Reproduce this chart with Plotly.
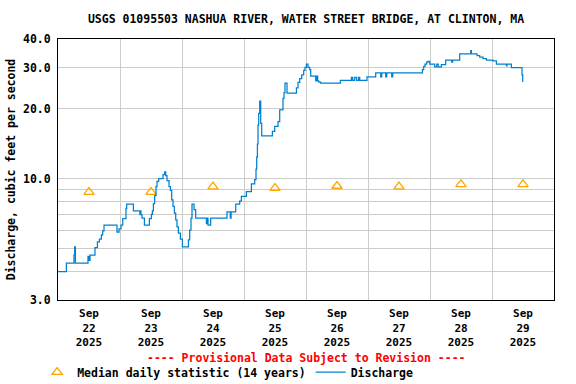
import pandas as pd
import plotly.graph_objects as go

# ---- data ----
start = "2025-09-22 00:00"
# hours since start, discharge (cfs) -- step series
q_hours = [0, 3.25, 6.19, 6.46, 6.74, 11.61, 12.0, 12.39, 14.32, 15.25, 16.03, 16.8, 17.3, 17.81,
           22.84, 23.61, 24.39, 25.05, 26.32, 26.59, 29.19, 31.7, 31.9, 32.1, 32.52, 33.45, 35.38,
           36.16, 36.54, 36.93, 37.43, 37.94, 38.32, 38.98, 40.65, 41.3, 41.69, 42.19, 42.97, 43.51,
           44.01, 44.52, 45.06, 45.56, 46.06, 46.61, 47.38, 48.16, 50.48, 50.98, 51.48, 51.87, 52.65,
           53.3, 57.45, 57.83, 58.07, 59.11, 65.42, 66.7, 67.0, 68.79, 70.33, 70.99, 72.93, 74.87,
           76.14, 76.65, 76.92, 77.19, 77.42, 77.69, 78.08, 78.47, 78.85, 82.99, 83.88, 85.16, 85.82,
           87.1, 87.49, 87.87, 88.65, 92.29, 92.9, 93.56, 94.34, 95.11, 95.61, 96.16, 96.78, 97.43,
           97.82, 99.76, 100.14, 100.53, 100.92, 101.69, 109.32, 113.58, 114.08, 114.86, 115.63,
           116.4, 116.8, 119.61, 122.98, 124.92, 125.31, 126.86, 127.25, 129.18, 129.57, 141.06,
           141.56, 142.07, 142.72, 143.23, 143.89, 145.82, 146.6, 147.18, 148.42, 150.08, 152.41,
           152.79, 155.5, 159.76, 160.03, 162.2, 163.24, 164.52, 165.84, 168.39, 169.71, 173.58,
           173.81, 175.51, 179.61, 179.89]
q_cfs = [3.98, 4.33, 4.68, 5.08, 4.33, 4.62, 4.45, 4.68, 5.05, 5.34, 5.49, 5.73, 5.96, 6.30,
         5.89, 6.07, 6.30, 6.73, 7.44, 7.77, 7.27, 7.0, 7.27, 7.0, 6.76, 6.30, 6.73,
         7.02, 7.27, 7.8, 8.46, 9.25, 9.73, 10.0, 10.4, 10.7, 10.3, 9.8, 9.25, 8.9,
         8.1, 7.6, 7.1, 6.64, 6.2, 5.83, 5.49, 5.08, 5.45, 6.0, 6.76, 7.77, 7.35,
         6.76, 6.4, 6.76, 6.30, 6.76, 7.2, 6.76, 7.2, 7.77, 8.0, 8.4, 8.8, 9.5,
         9.9, 11.0, 12.4, 14.1, 17.0, 19.1, 21.6, 17.3, 15.3, 16.0, 16.8, 17.6, 19.8,
         22.2, 23.5, 25.8, 23.4, 24.6, 26.0, 27.0, 28.0, 29.3, 30.2, 31.2, 30.2, 29.5,
         27.7, 26.4, 27.7, 26.4, 26.1, 25.8, 26.5, 27.3, 26.5, 27.3, 26.5,
         27.3, 26.5, 27.5, 28.6, 27.5, 28.6, 27.5, 28.6, 27.5, 28.6, 29.5,
         30.5, 31.2, 31.8, 32.0, 31.2, 30.3, 31.2, 30.3, 31.0, 32.4, 31.8,
         32.4, 34.5, 35.6, 34.5, 33.9, 33.4, 32.9, 32.4, 32.2, 31.2, 30.6,
         31.2, 30.1, 28.0, 26.1]

median_days = ["2025-09-22 12:00", "2025-09-23 12:00", "2025-09-24 12:00", "2025-09-25 12:00",
               "2025-09-26 12:00", "2025-09-27 12:00", "2025-09-28 12:00", "2025-09-29 12:00"]
median_cfs = [8.75, 8.75, 9.25, 9.1, 9.3, 9.25, 9.45, 9.45]

tick_days = median_days
tick_text = ["Sep<br>22<br>2025", "Sep<br>23<br>2025", "Sep<br>24<br>2025", "Sep<br>25<br>2025",
             "Sep<br>26<br>2025", "Sep<br>27<br>2025", "Sep<br>28<br>2025", "Sep<br>29<br>2025"]
grid_days = ["2025-09-23", "2025-09-24", "2025-09-25", "2025-09-26", "2025-09-27",
             "2025-09-28", "2025-09-29"]
y_ticks = [3, 10, 20, 30, 40]
y_text = ["3.0", "10.0", "20.0", "30.0", "40.0"]
y_minor = [4, 5, 6, 7, 8, 9]

title = "USGS 01095503 NASHUA RIVER, WATER STREET BRIDGE, AT CLINTON, MA"
ytitle = "Discharge, cubic feet per second"
note = "---- Provisional Data Subject to Revision ----"

# ---- figure ----
times = pd.Timestamp(start) + pd.to_timedelta(q_hours, unit="h")
FONT = dict(family="DejaVu Sans Mono", size=11.5, color="black", weight="bold")

fig = go.Figure()
fig.add_trace(go.Scatter(
    x=pd.to_datetime(median_days), y=median_cfs, mode="markers",
    name="Median daily statistic (14 years)",
    marker=dict(symbol="triangle-up-open", size=9, color="#FFA500", line=dict(width=1.3, color="#FFA500")),
))
fig.add_trace(go.Scatter(
    x=times, y=q_cfs, mode="lines", name="Discharge",
    line=dict(color="#0080D0", width=1.25, shape="hv"),
))

fig.update_layout(
    width=576, height=384,
    margin=dict(l=58, r=22, t=39, b=84, autoexpand=False),
    paper_bgcolor="white", plot_bgcolor="white",
    font=FONT,
    title=dict(text=title, x=0.5, xref="paper", xanchor="center",
               y=1 - 19 / 384, yref="container", yanchor="middle", font=FONT),
    showlegend=True,
    legend=dict(orientation="h", x=-0.042, xanchor="left", y=-0.276, yanchor="middle",
                font=FONT, bgcolor="rgba(0,0,0,0)", traceorder="normal"),
    annotations=[dict(text=note, x=0.5, xref="paper", y=-0.222, yref="paper",
                      xanchor="center", yanchor="middle", showarrow=False,
                      font=dict(family="DejaVu Sans Mono", size=11.5, color="red", weight="bold"))],
)

fig.update_xaxes(
    type="date", automargin=False,
    range=[pd.Timestamp("2025-09-22"), pd.Timestamp("2025-09-30")],
    tickmode="array", tickvals=pd.to_datetime(tick_days), ticktext=tick_text,
    tickfont=dict(family="DejaVu Sans Mono", size=11, color="black", weight="bold"),
    showgrid=False, ticks="outside", ticklen=3, tickcolor="rgba(0,0,0,0)",
    minor=dict(tickmode="array", tickvals=pd.to_datetime(grid_days), showgrid=True,
               gridcolor="#cccccc", gridwidth=1, ticks=""),
    showline=True, linecolor="black", linewidth=1, mirror=True, zeroline=False,
)
fig.update_yaxes(
    type="log", automargin=False,
    range=[0.47712, 1.60206],
    tickmode="array", tickvals=y_ticks, ticktext=y_text,
    tickfont=FONT, ticks="outside", ticklen=4, tickcolor="rgba(0,0,0,0)",
    showgrid=True, gridcolor="#cccccc", gridwidth=1,
    minor=dict(tickmode="array", tickvals=y_minor, showgrid=True, gridcolor="#cccccc",
               gridwidth=1, ticks=""),
    showline=True, linecolor="black", linewidth=1, mirror=True, zeroline=False,
    title=dict(text=ytitle, font=FONT, standoff=4),
)

fig.write_html("out.html", config={"displayModeBar": False},
               post_script="document.body.style.margin='0';document.body.style.padding='0';")
